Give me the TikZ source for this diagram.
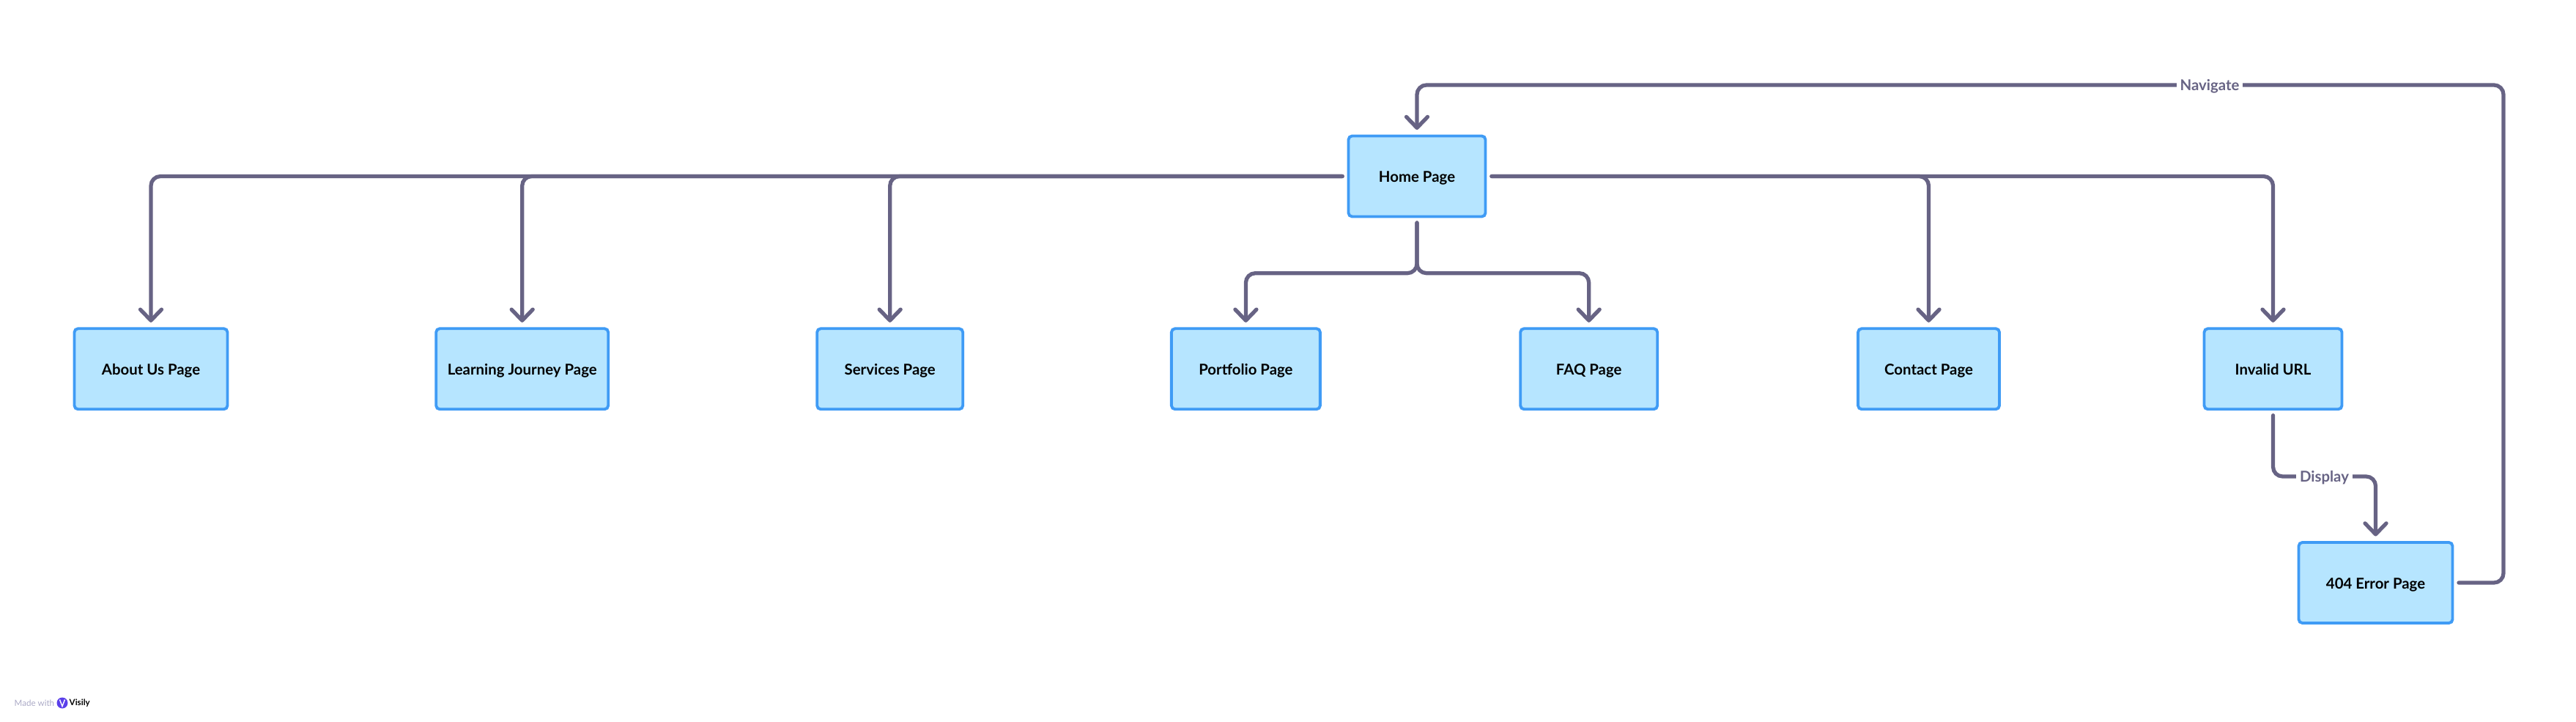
\documentclass[tikz,border=0pt]{standalone}
\usepackage{fontspec}
\setmainfont{Lato}
\usetikzlibrary{arrows.meta}
\definecolor{linkgray}{HTML}{676384}
\definecolor{pagefill}{HTML}{B6E5FF}
\definecolor{pageline}{HTML}{3F9BF5}
\definecolor{madegray}{HTML}{ABAAC6}
\definecolor{logoblue}{HTML}{5A3FEA}
\tikzstyle{page}=[draw=pageline,fill=pagefill,line width=1.1pt,rounded corners=0.05cm,inner sep=0pt,minimum height=1.1cm,text height=4.7pt,text depth=0pt,font=\fontsize{5.8}{6}\selectfont\bfseries,text=black]
\tikzstyle{link}=[draw=linkgray,line width=1.5pt,line cap=round,rounded corners=0.13cm,shorten <=0.065cm]
\tikzstyle{arrowlink}=[link,-{Straight Barb[round,length=0.15cm,width=0.29cm]},shorten >=0.065cm]
\tikzstyle{linklabel}=[fill=white,inner sep=0pt,text height=4.5pt,text depth=0pt,text=linkgray,font=\fontsize{5.8}{6}\selectfont\bfseries]
\begin{document}
\begin{tikzpicture}
                  \useasboundingbox (0,0) rectangle (35.16,9.84);

                  \node (home) at (19.34,7.435) [page,minimum width=1.87cm] {Home Page};

                  \node (about) at (2.06,4.807) [page,minimum width=2.09cm] {About Us Page};
                  \node (learning) at (7.127,4.807) [page,minimum width=2.35cm] {Learning Journey Page};
                  \node (services) at (12.147,4.807) [page,minimum width=1.99cm] {Services Page};
                  \node (portfolio) at (17.004,4.807) [page,minimum width=2.03cm] {Portfolio Page};
                  \node (faq) at (21.687,4.807) [page,minimum width=1.87cm] {FAQ Page};
                  \node (contact) at (26.325,4.807) [page,minimum width=1.93cm] {Contact Page};
                  \node (invalid) at (31.025,4.807) [page,minimum width=1.88cm] {Invalid URL};
                  \node (error) at (32.425,1.89) [page,minimum width=2.1cm] {404 Error Page};

                  \coordinate (split) at (19.34,6.113);
                  \coordinate (navcorner) at (34.17,8.68);
                  \coordinate (displaymid) at (31.725,3.34);

                  \draw [arrowlink] (home.west) -| (about.north);
                  \draw [arrowlink] (home.west) -| (learning.north);
                  \draw [arrowlink] (home.west) -| (services.north);
                  \draw [arrowlink] (home.south) -- (split) -| (portfolio.north);
                  \draw [arrowlink] (home.south) -- (split) -| (faq.north);
                  \draw [arrowlink] (home.east) -| (contact.north);
                  \draw [arrowlink] (home.east) -| (invalid.north);
                  \draw [arrowlink] (invalid.south) |- (displaymid) -| (error.north);
                  \draw [arrowlink] (error.east) -| (navcorner) -| (home.north);

                  \node (display) at (displaymid) [linklabel,minimum width=0.77cm,minimum height=0.3cm] {Display};
                  \node (navigate) at (30.16,8.68) [linklabel,minimum width=0.9cm,minimum height=0.3cm] {Navigate};

                  % made with badge
                  \node (made) at (0.19,0.25) [anchor=west,inner sep=0pt,text=madegray,font=\fontsize{3.3}{4}\selectfont] {Made with};
                  \node (logo) at (0.85,0.25) [circle,fill=logoblue,inner sep=0pt,minimum size=0.15cm] {};
                  \draw [white,line width=0.4pt] (0.815,0.295) -- (0.85,0.205) -- (0.885,0.295);
                  \node (visily) at (0.94,0.25) [anchor=west,inner sep=0pt,text=black,font=\fontsize{3.3}{4}\selectfont\bfseries] {Visily};
              \end{tikzpicture}
\end{document}
